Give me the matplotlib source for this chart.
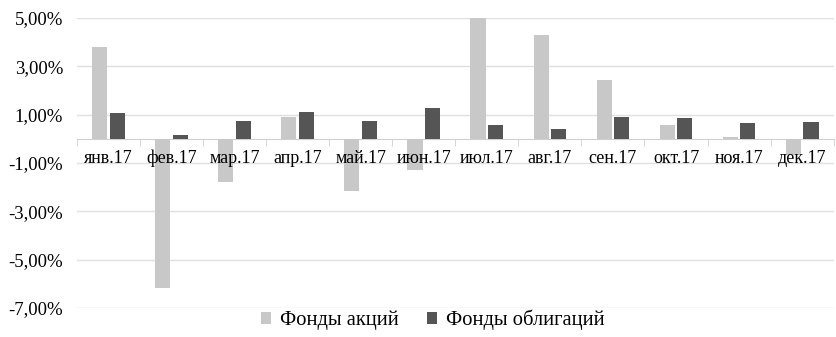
import numpy as np
import matplotlib.pyplot as plt
from matplotlib.ticker import FuncFormatter

months = ["янв.17", "фев.17", "мар.17", "апр.17", "май.17", "июн.17",
          "июл.17", "авг.17", "сен.17", "окт.17", "ноя.17", "дек.17"]
stocks = [3.78, -6.16, -1.77, 0.92, -2.18, -1.28, 5.00, 4.28, 2.42, 0.58, 0.08, -0.68]
bonds = [1.06, 0.14, 0.73, 1.09, 0.73, 1.27, 0.58, 0.40, 0.90, 0.87, 0.66, 0.69]

plt.rcParams['font.family'] = ['Liberation Serif', 'DejaVu Serif']

fig = plt.figure(figsize=(8.37, 3.37), dpi=100)
ax = fig.add_axes([0.092, 0.086, 0.904, 0.861])

x = np.arange(len(months))
w = 0.24
gap = 0.02
ax.bar(x - w/2 - gap, stocks, w, color="#c8c8c8", label="Фонды акций", zorder=3)
ax.bar(x + w/2 + gap, bonds, w, color="#555555", label="Фонды облигаций", zorder=3)

ax.set_xlim(-0.5, len(months) - 0.5)
ax.set_ylim(-7, 5)
ax.set_yticks([-7, -5, -3, -1, 1, 3, 5])
ax.yaxis.set_major_formatter(FuncFormatter(lambda v, p: ("%.2f%%" % v).replace(".", ",")))
ax.tick_params(axis='y', length=0, labelsize=13.5, pad=10)
ax.grid(axis='y', color="#e0e0e0", linewidth=1)
ax.yaxis.set_zorder(0.5)
ax.xaxis.set_zorder(4)

for s in ["top", "right", "left"]:
    ax.spines[s].set_visible(False)
ax.spines["bottom"].set_position(("data", 0))
ax.spines["bottom"].set_color("#d0d0d0")
ax.spines["bottom"].set_zorder(2)

ax.set_xticks(x)
ax.set_xticklabels(months)
ax.set_xticks(np.arange(len(months) + 1) - 0.5, minor=True)
ax.tick_params(axis='x', which='major', length=0, labelsize=13, pad=8)
ax.tick_params(axis='x', which='minor', length=5, color="#d0d0d0")

fig.legend(loc="lower center", bbox_to_anchor=(0.517, -0.035), ncol=2, frameon=False,
           fontsize=14.8, handlelength=0.5, handleheight=0.5, handletextpad=0.4,
           columnspacing=1.4)

fig.savefig("out.png", dpi=100)
